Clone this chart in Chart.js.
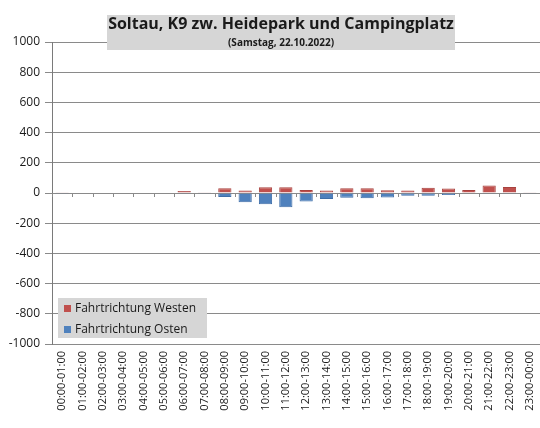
<!DOCTYPE html>
<html>
<head>
<meta charset="utf-8">
<script src="https://cdn.jsdelivr.net/npm/chart.js@4.4.0/dist/chart.umd.min.js"></script>
<style>
  html, body { margin: 0; padding: 0; background: #fff; }
  #wrap { width: 540px; height: 428px; }
</style>
</head>
<body>
<div id="wrap"><canvas id="myChart" width="540" height="428"></canvas></div>
<script>
const hours = [
  "00:00-01:00", "01:00-02:00", "02:00-03:00", "03:00-04:00", "04:00-05:00", "05:00-06:00",
  "06:00-07:00", "07:00-08:00", "08:00-09:00", "09:00-10:00", "10:00-11:00", "11:00-12:00",
  "12:00-13:00", "13:00-14:00", "14:00-15:00", "15:00-16:00", "16:00-17:00", "17:00-18:00",
  "18:00-19:00", "19:00-20:00", "20:00-21:00", "21:00-22:00", "22:00-23:00", "23:00-00:00"
];
const westen = [2, 0, 0, 0, 3, 0, 13, 2, 32, 16, 38, 38, 20, 16, 31, 31, 18, 16, 35, 29, 20, 49, 40, 2];
const osten = [-2, 0, 0, 0, -3, 0, -2, -2, -27, -62, -75, -95, -57, -40, -31, -35, -30, -18, -18, -13, -3, -2, -1, -2];
const titleText = "Soltau, K9 zw. Heidepark und Campingplatz";
const subtitleText = "(Samstag, 22.10.2022)";

const FONT = "'Open Sans', sans-serif";

// small tick marks on the zero line at every category boundary
const zeroTicks = {
  id: "zeroTicks",
  afterDatasetsDraw(chart) {
    const { ctx, scales: { x, y } } = chart;
    const y0 = y.getPixelForValue(0);
    ctx.save();
    ctx.strokeStyle = "#8a8a8a";
    ctx.lineWidth = 1;
    ctx.beginPath();
    for (let i = 0; i <= hours.length; i++) {
      const px = Math.round(x.getPixelForValue(i - 0.5)) + 0.5;
      ctx.moveTo(px, y0);
      ctx.lineTo(px, y0 + 4);
    }
    ctx.stroke();
    ctx.restore();
  }
};

// Excel-like title box and legend box drawn on top of the plot
const boxes = {
  id: "boxes",
  afterDraw(chart) {
    const ctx = chart.ctx;
    ctx.save();
    // title
    ctx.fillStyle = "#d6d6d6";
    ctx.fillRect(107, 15, 348, 35);
    ctx.fillStyle = "#1a1a1a";
    ctx.textAlign = "center";
    ctx.textBaseline = "middle";
    ctx.font = "bold 16px " + FONT;
    ctx.fillText(titleText, 281, 24);
    ctx.font = "bold 10px " + FONT;
    ctx.fillText(subtitleText, 281, 43);

    // legend
    ctx.fillStyle = "#d6d6d6";
    ctx.fillRect(58, 298, 149, 40);
    ctx.textAlign = "left";
    ctx.font = "12px " + FONT;
    chart.data.datasets.forEach((ds, i) => {
      const cy = 308 + i * 21;
      ctx.fillStyle = ds.backgroundColor;
      ctx.fillRect(64, cy - 3, 7, 7);
      ctx.fillStyle = "#1a1a1a";
      ctx.fillText(ds.label, 75, cy + 1);
    });
    ctx.restore();
  }
};

const ctx = document.getElementById("myChart").getContext("2d");
new Chart(ctx, {
  type: "bar",
  data: {
    labels: hours,
    datasets: [
      {
        label: "Fahrtrichtung Westen",
        data: westen,
        backgroundColor: "#c0504d",
        borderColor: "#a8423f",
        borderWidth: 1,
        barPercentage: 0.65,
        categoryPercentage: 1
      },
      {
        label: "Fahrtrichtung Osten",
        data: osten,
        backgroundColor: "#4f81bd",
        borderColor: "#3f6ea8",
        borderWidth: 1,
        barPercentage: 0.65,
        categoryPercentage: 1
      }
    ]
  },
  options: {
    responsive: false,
    animation: false,
    layout: { padding: { top: 42, right: 0, bottom: 0, left: 0 } },
    plugins: {
      legend: { display: false },
      title: { display: false },
      tooltip: { enabled: false }
    },
    scales: {
      x: {
        stacked: true,
        grid: { display: false, drawTicks: false },
        border: { display: false },
        ticks: {
          autoSkip: false,
          maxRotation: 90,
          minRotation: 90,
          padding: 7,
          color: "#1a1a1a",
          font: { family: FONT, size: 11 }
        },
        afterFit: (s) => {
          s.height = 84;
          s.paddingLeft = 0;
          s.paddingRight = 0;
        }
      },
      y: {
        stacked: true,
        min: -1000,
        max: 1000,
        ticks: {
          stepSize: 200,
          padding: 5,
          color: "#1a1a1a",
          font: { family: FONT, size: 12 },
          callback: (v) => String(v)
        },
        grid: { color: "#8a8a8a", tickLength: 7, tickColor: "#8a8a8a" },
        border: { color: "#7a7a7a" },
        afterFit: (s) => { s.width = 52; }
      }
    }
  },
  plugins: [zeroTicks, boxes]
});
</script>
</body>
</html>
